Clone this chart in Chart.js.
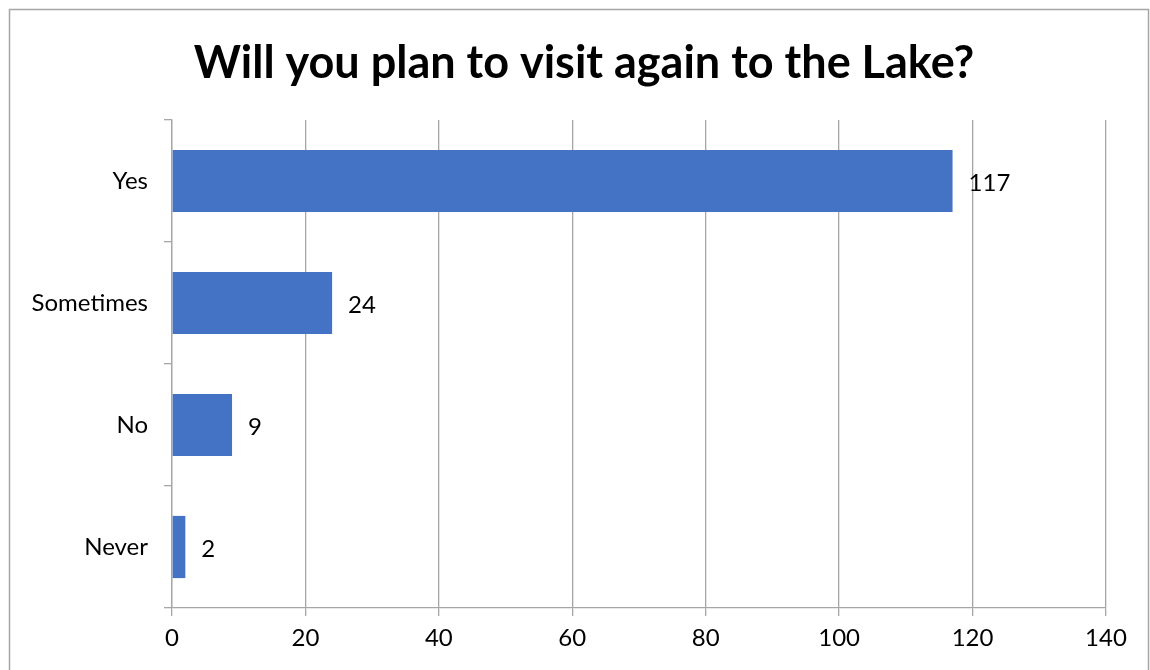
<!DOCTYPE html>
<html><head><meta charset="utf-8">
<script src="https://cdn.jsdelivr.net/npm/chart.js@4/dist/chart.umd.min.js"></script>
<style>html,body{margin:0;padding:0;background:#fff}#wrap{width:1150px;height:670px;position:relative}</style>
</head><body><div id="wrap"><canvas id="c" width="1150" height="670"></canvas></div>
<script>
const titleText = "Will you plan to visit again to the Lake?";
const categories = ["Yes", "Sometimes", "No", "Never"];
const values = [117, 24, 9, 2];
const xTicks = [0, 20, 40, 60, 80, 100, 120, 140];

const FONT = "Lato, 'Open Sans', sans-serif";
const GRID = '#a6a6a6';

const framePlugin = {
  id: 'frame',
  beforeDraw(chart) {
    const ctx = chart.ctx;
    ctx.save();
    ctx.fillStyle = '#fff';
    ctx.fillRect(0, 0, chart.width, chart.height);
    ctx.strokeStyle = '#a6a6a6';
    ctx.lineWidth = 1.5;
    ctx.strokeRect(9.5, 9.5, 1139, 700);
    ctx.restore();
  },
  afterDraw(chart) {
    const ctx = chart.ctx;
    ctx.save();
    ctx.font = "bold 45px " + FONT;
    ctx.fillStyle = '#000';
    ctx.textAlign = 'center';
    ctx.textBaseline = 'middle';
    ctx.fillText(titleText, 584, 63);
    ctx.restore();
  }
};

const labelPlugin = {
  id: 'vals',
  afterDatasetsDraw(chart) {
    const ctx = chart.ctx;
    const meta = chart.getDatasetMeta(0);
    ctx.save();
    ctx.font = "24px " + FONT;
    ctx.fillStyle = '#000';
    ctx.textAlign = 'left';
    ctx.textBaseline = 'middle';
    meta.data.forEach((bar, i) => {
      ctx.fillText(String(values[i]), bar.x + 16, bar.y + 2);
    });
    ctx.restore();
  }
};

new Chart(document.getElementById('c'), {
  type: 'bar',
  data: {
    labels: categories,
    datasets: [{ data: values, backgroundColor: '#4472C4', borderWidth: 0,
      categoryPercentage: 1, barPercentage: 0.51 }]
  },
  options: {
    indexAxis: 'y',
    responsive: false,
    animation: false,
    layout: { padding: { left: 10, right: 44, top: 120, bottom: 0 } },
    plugins: {
      legend: { display: false },
      tooltip: { enabled: false },
      title: { display: false }
    },
    scales: {
      x: {
        min: 0, max: 140,
        afterBuildTicks(axis) { axis.ticks = xTicks.map(v => ({ value: v })); },
        afterFit(axis) { axis.height = 62; },
        grid: { color: GRID, lineWidth: 1.3, tickLength: 8, drawTicks: true },
        border: { display: true, color: GRID, width: 1.3 },
        ticks: { color: '#000', font: { family: FONT, size: 24 }, padding: 8 }
      },
      y: {
        afterFit(axis) { axis.width = 162; },
        grid: { color: GRID, lineWidth: 1.3, drawOnChartArea: false, tickLength: 8, offset: true },
        border: { display: true, color: GRID, width: 1.3 },
        ticks: { color: '#000', font: { family: FONT, size: 24 }, padding: 16 }
      }
    }
  },
  plugins: [framePlugin, labelPlugin]
});
</script></body></html>
